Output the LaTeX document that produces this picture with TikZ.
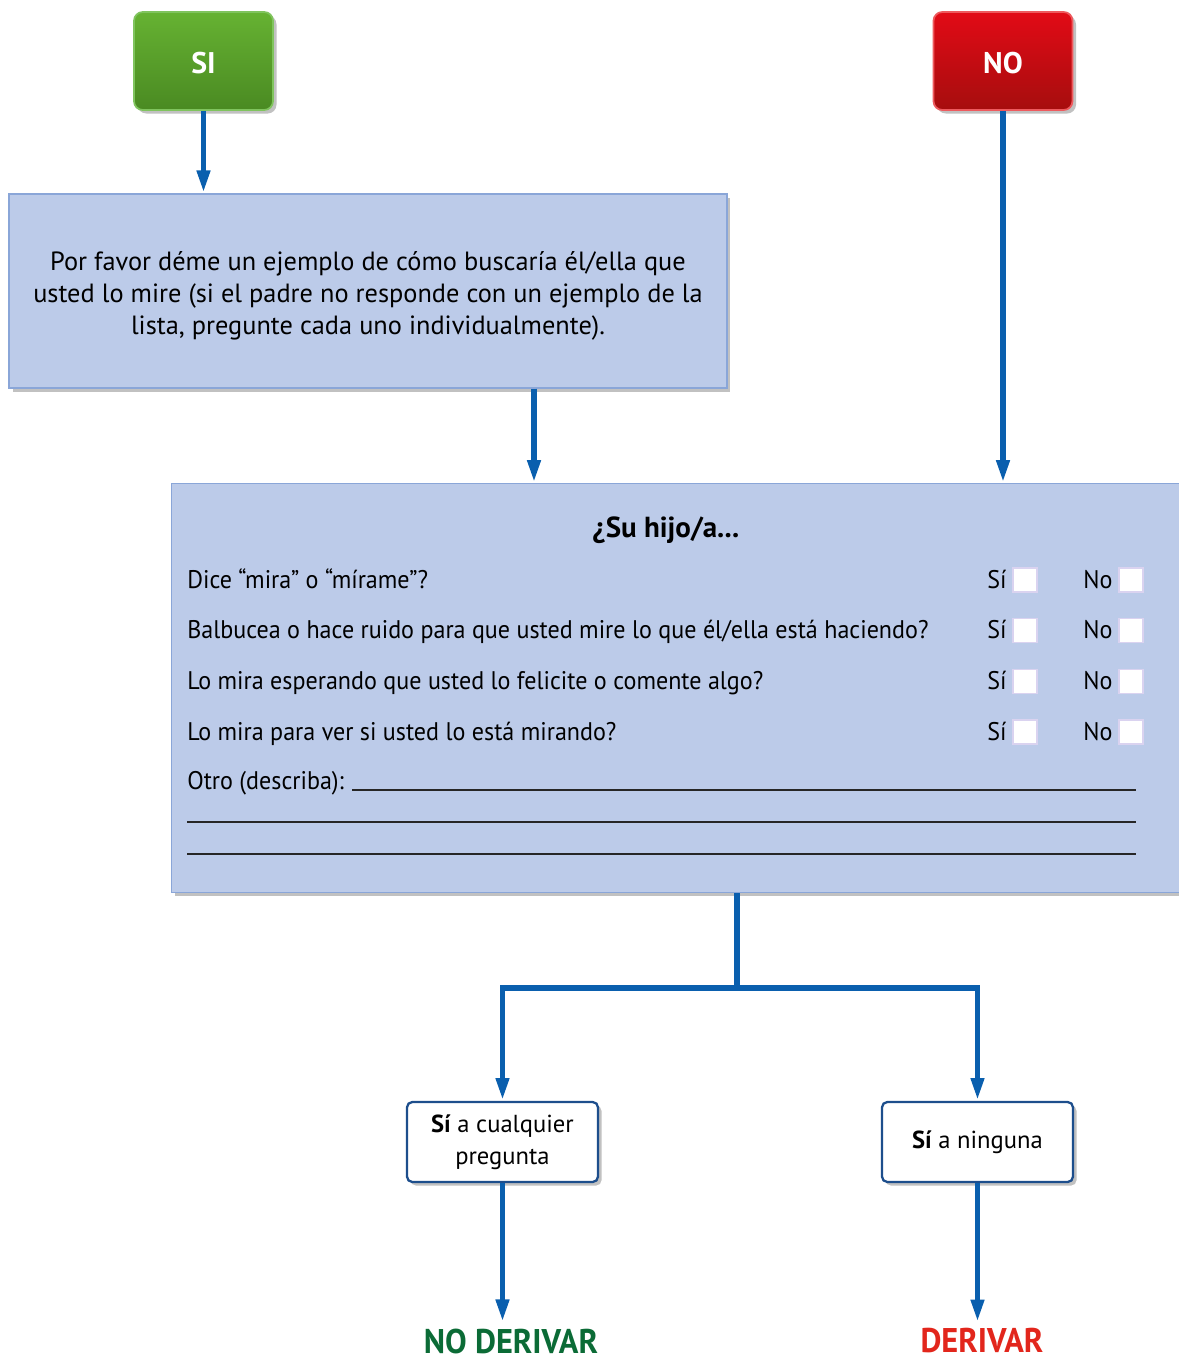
\documentclass[tikz,border=0pt]{standalone}
\usepackage{fontspec}
\setmainfont{PT Sans}
\newfontfamily\estrecha{PT Sans}[FakeStretch=0.945]
\usetikzlibrary{arrows.meta,shadows,positioning}

\definecolor{azul}{HTML}{0A5FAE}
\definecolor{celeste}{HTML}{BCCBE9}
\definecolor{celesteborde}{HTML}{8AA6D8}
\definecolor{verdearriba}{HTML}{66B232}
\definecolor{verdeabajo}{HTML}{4A8A22}
\definecolor{verdeborde}{HTML}{80C45E}
\definecolor{rojoarriba}{HTML}{E20B16}
\definecolor{rojoabajo}{HTML}{A60D0E}
\definecolor{rojoborde}{HTML}{EE5A5E}
\definecolor{resborde}{HTML}{1D4E8C}
\definecolor{lila}{HTML}{DAD3F0}
\definecolor{verdetxt}{HTML}{0B6B36}
\definecolor{rojotxt}{HTML}{E2261C}

\tikzset{
  sombra/.style={drop shadow={shadow xshift=2pt, shadow yshift=-2pt, opacity=0.35, fill=black!70}},
  flecha/.style={draw=azul, line width=3.4pt, -{Triangle[length=13pt,width=7pt]}},
  tronco/.style={draw=azul, line width=3.4pt},
  boton/.style={rounded corners=5pt, line width=1pt, minimum width=2.78cm, minimum height=1.96cm,
    text=white, font=\fontsize{17}{20}\selectfont\bfseries, sombra},
  caja/.style={draw=celesteborde, fill=celeste, line width=0.8pt, sombra},
  resultado/.style={draw=resborde, fill=white, line width=1.3pt, rounded corners=3pt,
    minimum width=3.82cm, minimum height=1.6cm, align=center,
    font=\fontsize{14}{18}\selectfont, sombra},
  pregunta/.style={inner sep=0pt, font=\estrecha\fontsize{14.5}{17}\selectfont},
  casilla/.style={draw=lila, fill=white, line width=0.8pt, minimum size=0.48cm, inner sep=0pt},
  renglon/.style={draw=black!85, line width=0.8pt},
  veredicto/.style={font=\estrecha\fontsize{19.5}{23}\selectfont\bfseries}
}

\begin{document}
\begin{tikzpicture}[x=0.02cm, y=-0.02cm]
    \useasboundingbox (0,0) rectangle (1179,1360);

    % Top buttons
    \node[boton, draw=verdeborde, top color=verdearriba, bottom color=verdeabajo] (si) at (203.5,61) {\rule{0pt}{15pt}SI};
    \node[boton, draw=rojoborde, top color=rojoarriba, bottom color=rojoabajo] (no) at (1003,61) {\rule{0pt}{15pt}NO};

    % Example box
    \node[caja, minimum width=14.36cm, minimum height=3.88cm, align=center,
          font=\fontsize{15}{18.2}\selectfont] (ejemplo) at (368,291)
        {\rule{0pt}{16pt}Por favor déme un ejemplo de cómo buscaría él/ella que\\
         usted lo mire (si el padre no responde con un ejemplo de la\\
         lista, pregunte cada uno individualmente).};

    % Question box
    \node[caja, anchor=north west, minimum width=20.8cm, minimum height=8.18cm] (cuadro) at (171,483) {};
    \node[font=\fontsize{16.5}{19}\selectfont\bfseries, anchor=base] (titulo) at (666,537) {¿Su hijo/a...};

    \foreach \preg [count=\i] in {Dice “mira” o “mírame”?,
        Balbucea o hace ruido para que usted mire lo que él/ella está haciendo?,
        Lo mira esperando que usted lo felicite o comente algo?,
        Lo mira para ver si usted lo está mirando?} {
        \pgfmathsetmacro{\yb}{588+(\i-1)*50.7}
        \node[pregunta, anchor=base west] (preg\i) at (187,\yb) {\preg};
        \node[pregunta, anchor=base east] (si\i) at (1007,\yb) {Sí};
        \node[casilla] (csi\i) at (1025,\yb-8) {};
        \node[pregunta, anchor=base west] (no\i) at (1083,\yb) {No};
        \node[casilla] (cno\i) at (1131,\yb-8) {};
    }

    % Write-in lines
    \node[pregunta, anchor=base west] (otro) at (187,789) {Otro (describa):};
    \coordinate (ini1) at (352,790);
    \coordinate (fin1) at (1136,790);
    \coordinate (ini2) at (187,822);
    \coordinate (fin2) at (1136,822);
    \coordinate (ini3) at (187,854);
    \coordinate (fin3) at (1136,854);
    \draw[renglon] (ini1) -- (fin1);
    \draw[renglon] (ini2) -- (fin2);
    \draw[renglon] (ini3) -- (fin3);

    % Outcome boxes
    \node[resultado] (cualquier) at (502.5,1142) {\textbf{Sí} a cualquier\\pregunta};
    \node[resultado] (ninguna) at (977.5,1142) {\textbf{Sí} a ninguna};
    \node[veredicto, text=verdetxt] (noderivar) at (511,1341) {NO DERIVAR};
    \node[veredicto, text=rojotxt] (derivar) at (982,1341) {DERIVAR};

    % Arrows
    \coordinate (bajada) at (534,0);
    \coordinate (rama) at (737,988);
    \draw[flecha] (si.south) -- (si.south |- ejemplo.north);
    \draw[flecha] (no.south) -- (no.south |- cuadro.north);
    \draw[flecha] (ejemplo.south -| bajada) -- (bajada |- cuadro.north);
    \draw[tronco] (rama |- cuadro.south) -- (rama);
    \draw[flecha] (rama) -| (cualquier.north);
    \draw[flecha] (rama) -| (ninguna.north);
    \draw[flecha] (cualquier.south) -- (cualquier.south |- noderivar.north);
    \draw[flecha] (ninguna.south) -- (ninguna.south |- derivar.north);
\end{tikzpicture}
\end{document}
